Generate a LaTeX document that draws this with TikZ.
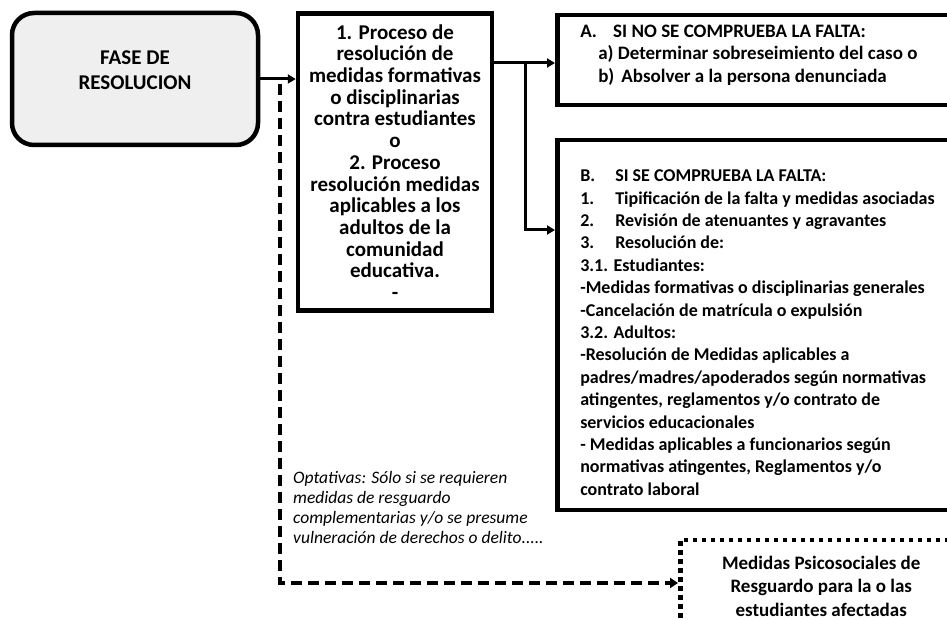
\documentclass[tikz,border=0pt]{standalone}
\usepackage{fontspec}
\setmainfont{Carlito}
\usetikzlibrary{arrows.meta}
\definecolor{phasefill}{HTML}{EFEFEF}

\begin{document}
\begin{tikzpicture}[
    x=1pt, y=-1pt,
    % Espaciado natural entre palabras
    every node/.style={execute at begin node={\spaceskip=0pt\relax\xspaceskip=0pt\relax}},
    % Estilos de cajas
    phase box/.style={draw=black, line width=4.5pt, rounded corners=22pt, fill=phasefill,
        minimum width=246pt, minimum height=132pt, align=center,
        font=\fontsize{21}{25}\selectfont\bfseries},
    process box/.style={draw=black, line width=4.5pt, fill=white, inner xsep=1pt,
        minimum width=194pt, minimum height=297pt, align=center,
        font=\fontsize{21}{21.7}\selectfont\bfseries},
    result box/.style={draw=black, line width=4.5pt, fill=white, anchor=west,
        minimum width=420pt, inner xsep=21pt, align=left, text width=374pt},
    support box/.style={draw=black, line width=4.5pt, dash pattern=on 4.5pt off 4.5pt,
        fill=white, anchor=west, minimum width=282pt, minimum height=92pt, align=center,
        font=\fontsize{19}{23.5}\selectfont\bfseries},
    note text/.style={anchor=north west, align=left, inner sep=0pt,
        font=\fontsize{17.5}{20}\selectfont\itshape},
    % Estilos de flechas
    main arrow/.style={line width=3pt, -{Triangle[width=9pt,length=8pt]}},
    opt arrow/.style={line width=3.5pt, dash pattern=on 11pt off 6pt,
        -{Triangle[width=10pt,length=8pt]}}
]
\clip (0,0) rectangle (947,620);

% 1. Fase y proceso
\node[phase box] (fase) at (135,79) {FASE DE\\RESOLUCION\rule[-17pt]{0pt}{17pt}};
\node[process box] (proc) at (395,162) {1. Proceso de\\resolución de\\medidas formativas\\o disciplinarias\\contra estudiantes\\o\\2. Proceso\\resolución medidas\\aplicables a los\\adultos de la\\comunidad\\educativa.\\-};

% 2. Resultados
\node[result box, minimum height=90pt, font=\fontsize{19}{22.5}\selectfont\bfseries] (resA) at (555,60)
    {\makebox[33pt][l]{A.}SI NO SE COMPRUEBA LA FALTA:\\
     \hspace*{18pt}a) Determinar sobreseimiento del caso o\\
     \hspace*{18pt}b)\hspace{7pt}Absolver a la persona denunciada\rule[-13pt]{0pt}{13pt}};
\node[result box, minimum height=370pt, font=\fontsize{18}{22.4}\selectfont\bfseries] (resB) at (555,325)
    {\rule{0pt}{27pt}\makebox[35pt][l]{B.}SI SE COMPRUEBA LA FALTA:\\
     \makebox[35pt][l]{1.}Tipificación de la falta y medidas asociadas\\
     \makebox[35pt][l]{2.}Revisión de atenuantes y agravantes\\
     \makebox[35pt][l]{3.}Resolución de:\\
     3.1. Estudiantes:\\
     -Medidas formativas o disciplinarias generales\\
     -Cancelación de matrícula o expulsión\\
     3.2. Adultos:\\
     -Resolución de Medidas aplicables a\\
     padres/madres/apoderados según normativas\\
     atingentes, reglamentos y/o contrato de\\
     servicios educacionales\\
     - Medidas aplicables a funcionarios según\\
     normativas atingentes, Reglamentos y/o\\
     contrato laboral};

% 3. Medidas opcionales
\node[support box] (psico) at (678,586) {Medidas Psicosociales de\\Resguardo para la o las\\estudiantes afectadas};
\node[note text] (nota) at (293,471) {Optativas: Sólo si se requieren\\medidas de resguardo\\complementarias y/o se presume\\vulneración de derechos o delito.....};

% 4. Conectores
\coordinate (fork) at (525,63);
\coordinate (fork low) at (525,230);
\coordinate (opt top) at (280,84);
\coordinate (opt corner) at (280,583);

\draw[main arrow] (fase.east) -- (fase.east -| proc.west);
\draw[main arrow] (proc.east |- fork) -- (fork -| resA.west);
\draw[main arrow] (fork) -- (fork low) -- (fork low -| resB.west);
\draw[opt arrow] (opt top) -- (opt corner) -- (opt corner -| psico.west);

\end{tikzpicture}
\end{document}
